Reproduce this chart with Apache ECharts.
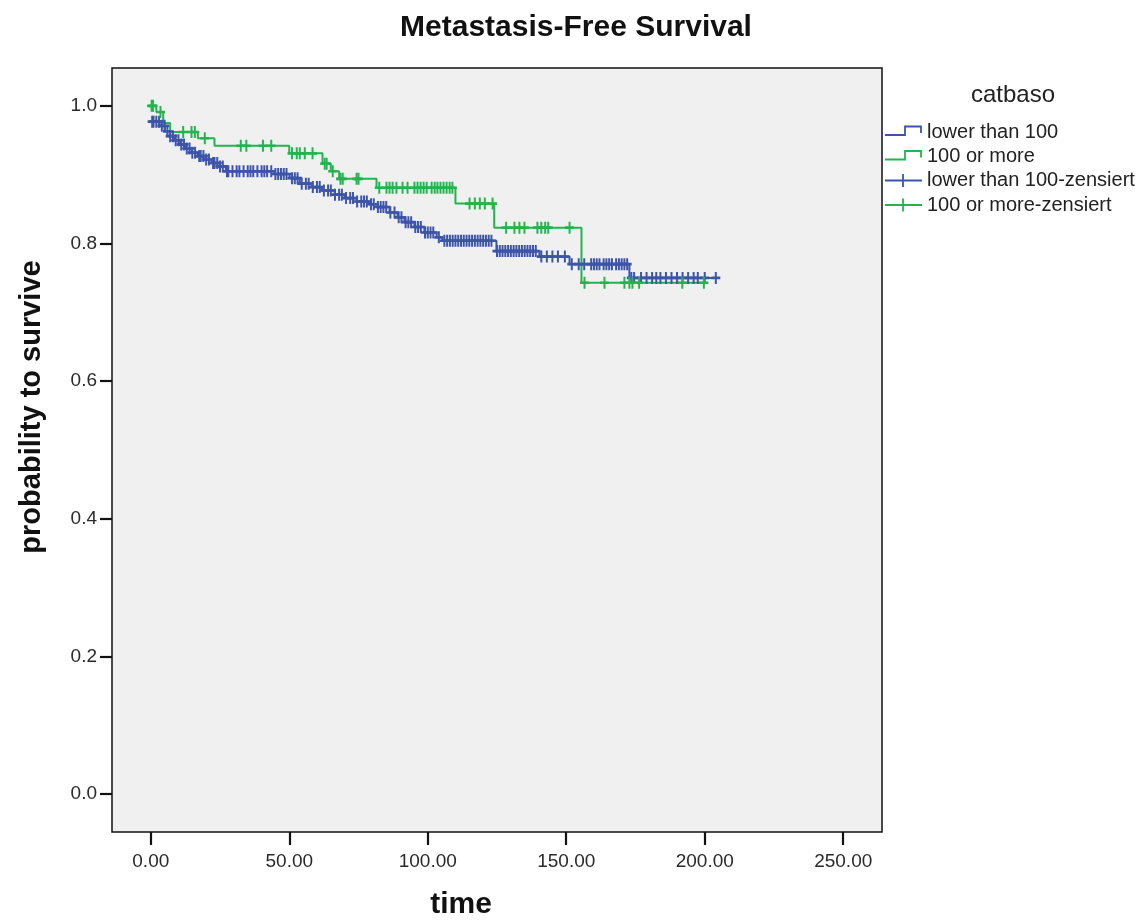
<!DOCTYPE html>
<html><head><meta charset="utf-8">
<script src="https://cdn.jsdelivr.net/npm/echarts@6/dist/echarts.min.js"></script>
<style>html,body{margin:0;padding:0;background:#fff}#c{width:1147px;height:921px}</style>
</head><body><div id="c"></div>
<script>
// ---- data ----
const chartTitle = 'Metastasis-Free Survival';
const legendTitle = 'catbaso';
const groupNames = ['lower than 100', '100 or more'];
const censorNames = ['lower than 100-zensiert', '100 or more-zensiert'];
const xTicks = [0, 50, 100, 150, 200, 250];
const yTicks = [0, 0.2, 0.4, 0.6, 0.8, 1.0];

// Kaplan-Meier step points [time, survival] for "lower than 100"
const blueSteps = [[0,0.977],[3.2,0.971],[5.1,0.963],[6.9,0.956],[8.7,0.950],[10.5,0.944],[12.6,0.938],[14.8,0.932],[17,0.927],[19.5,0.922],[22,0.917],[24.9,0.912],[27.1,0.905],[44.7,0.901],[50.1,0.895],[53.8,0.887],[58.1,0.882],[61.7,0.877],[66.4,0.871],[70,0.866],[74.3,0.861],[79,0.857],[81.9,0.853],[86.2,0.845],[89.1,0.838],[91.6,0.831],[95.2,0.824],[98.8,0.816],[103.2,0.809],[105.3,0.804],[124.8,0.789],[140.3,0.781],[151.2,0.770],[172.8,0.750],[204.2,0.750]];
// Kaplan-Meier step points for "100 or more"
const greenSteps = [[0,1.0],[2,0.991],[4.5,0.975],[7,0.962],[17,0.953],[23,0.942],[50,0.931],[62,0.916],[65,0.905],[68,0.894],[81.5,0.881],[110,0.858],[124,0.823],[155.5,0.743],[200.2,0.743]];

// censoring times
const blueCensored = [0.5,1,2,3,4,5,6,7,8,9,10,11,12,13,14,15,16,17.5,18,19,20,21,22.5,23,24,25,26,27.5,28,29.5,31,32,33.5,35,36,37,38.5,40,41,42,43.5,45,46,47,48,49,51,52,53,54.5,56,57,58.5,60,61,62.5,64,65,66.5,68,69,70.5,72,73,74.5,76,77,78,79.5,80.5,82,83,84,85,86.5,88,89.5,90.5,92,93,94,95.5,96.5,97.5,99,100,101,102,104,106,107,108,109,110,111,112,113,114,115,116,117,118,119,120,121,122,123,125,126,127,128,129,130,131,132,133,134,135,136,137,138,139,141,143,145,147,149.5,152,154.5,156.5,159,160,161,162,163.5,164.5,165.5,166.5,168,169,170,171,172,173.5,174.5,177,179,181,182.5,184,186,188,190,192,194,196,197.5,200,204];
const greenCensored = [0.3,0.8,3.5,11.7,14.7,15.9,19.5,32.5,34.5,40.5,43.5,51,52.7,53.8,55.6,58.4,62.8,63.5,65.7,68.5,69.3,74.3,75,82.5,85.1,86.2,87.3,88.7,90.9,92.7,95.2,96.3,97.4,98.5,99.6,101.4,102.5,103.5,104.6,105.7,106.8,107.9,108.9,115.1,117,118.8,120.6,123.4,128.3,131.3,133.1,134.9,139.6,141,142.4,143.5,151.2,156.6,163.8,171,172.8,173.9,176.3,191.9,199.7];

// ---- helpers ----
function survivalAt(steps, t){ let v = steps[0][1]; for (const s of steps){ if (s[0] <= t) v = s[1]; } return v; }
const BLUE = '#3c55a8', GREEN = '#25b34d';
const FONT = '"Liberation Sans", Arial, sans-serif';
const PLUS = 'path://M3.9,0H6.1V3.9H10V6.1H6.1V10H3.9V6.1H0V3.9H3.9Z';

const chart = echarts.init(document.getElementById('c'), null, {renderer:'canvas'});

function stepIcon(x, y, color){
  return {type:'polyline', shape:{points:[[x,y+3],[x+20,y+3],[x+20,y-5.5],[x+36,y-5.5],[x+36,y+1]]}, style:{stroke:color, lineWidth:1.8, fill:null}};
}
function plusIcon(x, y, color){
  return {type:'group', children:[
    {type:'line', shape:{x1:x, y1:y, x2:x+37, y2:y}, style:{stroke:color, lineWidth:1.8}},
    {type:'line', shape:{x1:x+18, y1:y-6.5, x2:x+18, y2:y+6.5}, style:{stroke:color, lineWidth:1.8}}
  ]};
}
const rowY = [132, 156.5, 180.5, 205];
const legendLabels = [groupNames[0], groupNames[1], censorNames[0], censorNames[1]];
const legendEls = [
  {type:'text', x:1013, y:95, style:{text:legendTitle, font:'24px '+FONT, fill:'#222', align:'center', verticalAlign:'middle'}},
  stepIcon(885, rowY[0], BLUE), stepIcon(885, rowY[1], GREEN),
  plusIcon(885, rowY[2], BLUE), plusIcon(885, rowY[3], GREEN)
];
legendLabels.forEach((t,i)=>legendEls.push({type:'text', x:927, y:rowY[i], style:{text:t, font:'20px '+FONT, fill:'#222', align:'left', verticalAlign:'middle'}}));

chart.setOption({
  animation:false,
  backgroundColor:'#fff',
  textStyle:{fontFamily:FONT},
  grid:{left:112, right:265, top:68, bottom:89, show:true, backgroundColor:'#f0f0f0', borderColor:'#111', borderWidth:1.5},
  xAxis:{type:'value', min:-14, max:264,
    axisLine:{show:false, onZero:false}, splitLine:{show:false},
    axisTick:{show:true, length:13, lineStyle:{color:'#111', width:2.2}, customValues:xTicks},
    axisLabel:{customValues:xTicks, formatter:v=>v.toFixed(2), fontSize:19, color:'#2a2a2a', margin:20, fontFamily:FONT}},
  yAxis:{type:'value', min:-0.055, max:1.055,
    axisLine:{show:false, onZero:false}, splitLine:{show:false},
    axisTick:{show:true, length:12, lineStyle:{color:'#111', width:2.2}, customValues:yTicks},
    axisLabel:{customValues:yTicks, formatter:v=>v.toFixed(1), fontSize:19, color:'#2a2a2a', margin:15, fontFamily:FONT, padding:[3,0,0,0]}},
  graphic:[
    {type:'text', x:576, y:28, style:{text:chartTitle, font:'bold 30px '+FONT, fill:'#111', align:'center', verticalAlign:'middle'}},
    {type:'text', x:461, y:905, style:{text:'time', font:'bold 30px '+FONT, fill:'#111', align:'center', verticalAlign:'middle'}},
    {type:'text', x:32, y:407, rotation:Math.PI/2, style:{text:'probability to survive', font:'bold 29px '+FONT, fill:'#111', align:'center', verticalAlign:'middle'}},
    ...legendEls
  ],
  series:[
    {name:groupNames[0], type:'line', step:'end', data:blueSteps, symbol:'none', lineStyle:{color:BLUE, width:2}, z:2},
    {name:groupNames[1], type:'line', step:'end', data:greenSteps, symbol:'none', lineStyle:{color:GREEN, width:2}, z:3},
    {name:censorNames[0], type:'scatter', data:blueCensored.map(t=>[t, survivalAt(blueSteps,t)]), symbol:PLUS, symbolSize:[9,12], itemStyle:{color:BLUE, opacity:1}, z:4},
    {name:censorNames[1], type:'scatter', data:greenCensored.map(t=>[t, survivalAt(greenSteps,t)]), symbol:PLUS, symbolSize:[9,12], itemStyle:{color:GREEN, opacity:1}, z:5}
  ]
});
</script>
</body></html>
